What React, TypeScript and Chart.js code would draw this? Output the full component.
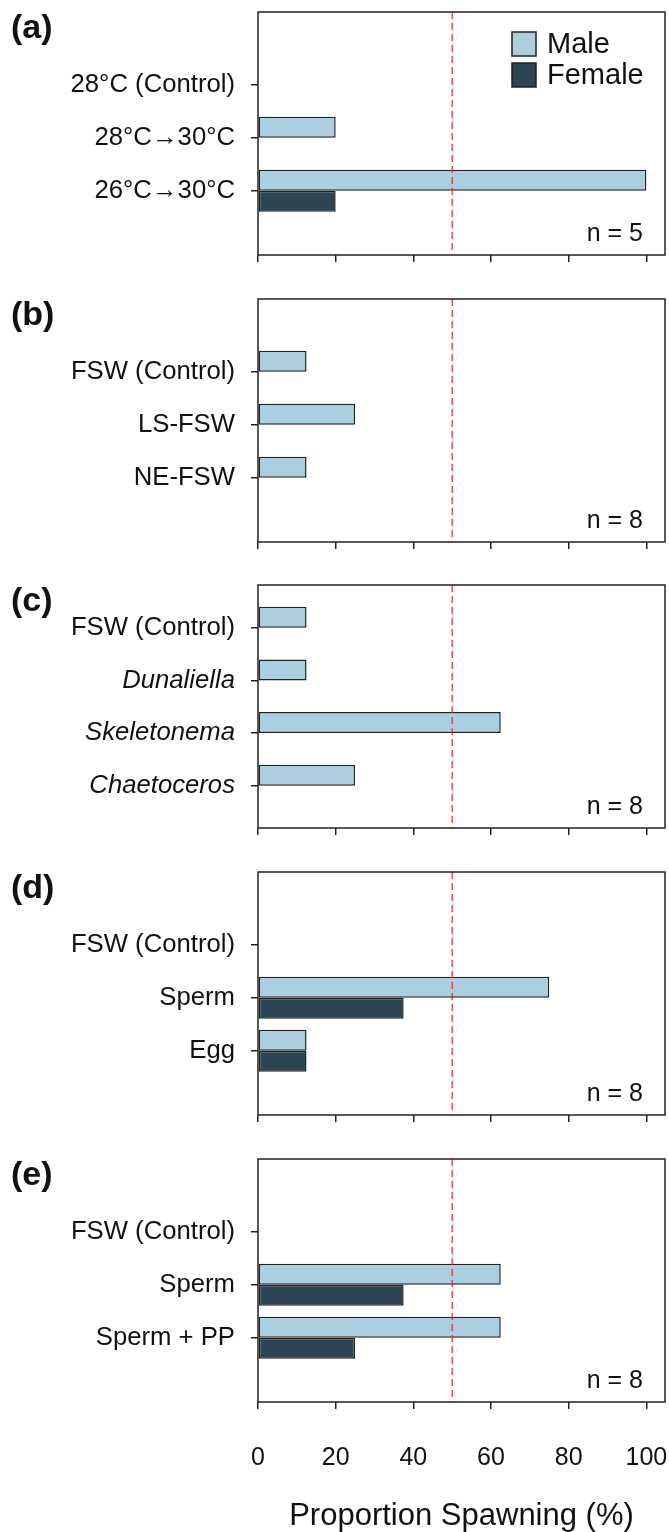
import React, { useEffect, useRef } from 'react';
import { Chart, registerables } from 'chart.js';

Chart.register(...registerables);

// ---------- data ----------
const panelLetters = ['(a)', '(b)', '(c)', '(d)', '(e)'];
const sampleSizes = [5, 8, 8, 8, 8];
const seriesLabels = ['Male', 'Female'];

const categoriesA = ['28°C (Control)', '28°C→30°C', '26°C→30°C'];
const maleA = [0, 20, 100];
const femaleA = [0, 0, 20];

const categoriesB = ['FSW (Control)', 'LS-FSW', 'NE-FSW'];
const maleB = [12.5, 25, 12.5];
const femaleB = [0, 0, 0];

const categoriesC = ['FSW (Control)', 'Dunaliella', 'Skeletonema', 'Chaetoceros'];
const italicC = [false, true, true, true];
const maleC = [12.5, 12.5, 62.5, 25];
const femaleC = [0, 0, 0, 0];

const categoriesD = ['FSW (Control)', 'Sperm', 'Egg'];
const maleD = [0, 75, 12.5];
const femaleD = [0, 37.5, 12.5];

const categoriesE = ['FSW (Control)', 'Sperm', 'Sperm + PP'];
const maleE = [0, 62.5, 62.5];
const femaleE = [0, 37.5, 25];

const xTickValues = [0, 20, 40, 60, 80, 100];
const xAxisTitle = 'Proportion Spawning (%)';
const thresholdValue = 50;

// ---------- style / layout ----------
const MALE_COLOR = '#abcfdf';
const FEMALE_COLOR = '#2d4454';
const AXIS_COLOR = '#222222';
const TEXT_COLOR = '#111111';
const RED = '#e3262b';
const FONT = '"Liberation Sans", Arial, Helvetica, sans-serif';

const CANVAS_W = 669;
const PLOT_LEFT = 258;
const PLOT_RIGHT = 665;
const PLOT_H = 243;
const TOP_PAD = 12;
const X_MAX = 104.8;

const panels = [
  { letter: panelLetters[0], n: sampleSizes[0], cats: categoriesA, male: maleA, female: femaleA, italic: [false, false, false], top: 12, yMin: -1.372, yMax: 3.213, legend: true, last: false },
  { letter: panelLetters[1], n: sampleSizes[1], cats: categoriesB, male: maleB, female: femaleB, italic: [false, false, false], top: 299, yMin: -1.372, yMax: 3.213, legend: false, last: false },
  { letter: panelLetters[2], n: sampleSizes[2], cats: categoriesC, male: maleC, female: femaleC, italic: italicC, top: 585, yMin: -0.81, yMax: 3.8, legend: false, last: false },
  { letter: panelLetters[3], n: sampleSizes[3], cats: categoriesD, male: maleD, female: femaleD, italic: [false, false, false], top: 872, yMin: -1.372, yMax: 3.213, legend: false, last: false },
  { letter: panelLetters[4], n: sampleSizes[4], cats: categoriesE, male: maleE, female: femaleE, italic: [false, false, false], top: 1159, yMin: -1.372, yMax: 3.213, legend: false, last: true },
];

const decorPlugin = {
  id: 'decor',
  afterDatasetsDraw(chart: any, _args: any, opts: any) {
    const { ctx, chartArea: a, scales } = chart;
    ctx.save();
    // threshold dashed line
    const xp = scales.x.getPixelForValue(opts.threshold);
    ctx.strokeStyle = RED;
    ctx.lineWidth = 1.2;
    ctx.setLineDash([7, 4]);
    ctx.beginPath();
    ctx.moveTo(xp, a.top);
    ctx.lineTo(xp, a.bottom);
    ctx.stroke();
    ctx.setLineDash([]);
    // frame
    ctx.strokeStyle = AXIS_COLOR;
    ctx.lineWidth = 1.5;
    ctx.strokeRect(a.left, a.top, a.right - a.left, a.bottom - a.top);
    // n label
    ctx.fillStyle = TEXT_COLOR;
    ctx.font = `25px ${FONT}`;
    ctx.textAlign = 'right';
    ctx.textBaseline = 'alphabetic';
    ctx.fillText(`n = ${opts.n}`, a.right - 22, a.bottom - 14.5);
    // panel letter
    ctx.font = `bold 34px ${FONT}`;
    ctx.textAlign = 'left';
    ctx.fillText(opts.letter, 11, 38);
    // legend
    if (opts.legend) {
      chart.data.datasets.forEach((ds: any, i: number) => {
        const y = a.top + 20 + i * 31;
        const x = a.right - 153;
        ctx.fillStyle = ds.backgroundColor;
        ctx.fillRect(x, y, 24, 24);
        ctx.strokeStyle = AXIS_COLOR;
        ctx.lineWidth = 1.5;
        ctx.strokeRect(x, y, 24, 24);
        ctx.fillStyle = TEXT_COLOR;
        ctx.font = `29px ${FONT}`;
        ctx.textAlign = 'left';
        ctx.fillText(ds.label, a.right - 118, y + 21.3);
      });
    }
    ctx.restore();
  },
};

function Panel({ p }: { p: any }) {
  const ref = useRef<HTMLCanvasElement>(null);
  const canvasTop = p.top - TOP_PAD;
  const canvasH = p.last ? 1532 - canvasTop : TOP_PAD + PLOT_H + 10;
  const xAxisH = canvasH - TOP_PAD - PLOT_H;

  useEffect(() => {
    if (!ref.current) return;
    const gridOpts = {
      drawOnChartArea: false,
      drawTicks: true,
      tickLength: 7,
      offset: false,
      color: AXIS_COLOR,
      lineWidth: 1.5,
    };
    const chart = new Chart(ref.current, {
      type: 'bar',
      data: {
        datasets: [
          {
            label: seriesLabels[0],
            data: p.male.map((v: number, i: number) => ({ x: v, y: i })),
            backgroundColor: MALE_COLOR,
            borderColor: AXIS_COLOR,
            borderWidth: 1.5,
            borderSkipped: false,
            barThickness: 21,
            inflateAmount: 0,
          },
          {
            label: seriesLabels[1],
            data: p.female.map((v: number, i: number) => ({ x: v, y: i })),
            backgroundColor: FEMALE_COLOR,
            borderColor: AXIS_COLOR,
            borderWidth: 1.5,
            borderSkipped: false,
            barThickness: 21,
            inflateAmount: 0,
          },
        ],
      },
      options: {
        indexAxis: 'y',
        animation: false,
        responsive: false,
        maintainAspectRatio: false,
        layout: { padding: { top: TOP_PAD, right: CANVAS_W - PLOT_RIGHT, left: 0, bottom: 0 } },
        plugins: {
          legend: { display: false },
          tooltip: { enabled: false },
          decor: { threshold: thresholdValue, n: p.n, letter: p.letter, legend: p.legend },
        } as any,
        scales: {
          x: {
            type: 'linear',
            position: 'bottom',
            min: 0,
            max: X_MAX,
            offset: false,
            bounds: 'data',
            afterBuildTicks: (s: any) => {
              s.ticks = xTickValues.map((v) => ({ value: v }));
            },
            afterFit: (s: any) => {
              s.height = xAxisH;
              s.paddingLeft = 0;
              s.paddingRight = 0;
            },
            grid: gridOpts,
            border: { display: false },
            ticks: {
              display: p.last,
              autoSkip: false,
              maxRotation: 0,
              padding: 34,
              color: TEXT_COLOR,
              font: { family: FONT, size: 25 },
            },
            title: {
              display: p.last,
              text: xAxisTitle,
              color: TEXT_COLOR,
              padding: 0,
              font: { family: FONT, size: 31, lineHeight: 1 },
            },
          },
          y: {
            type: 'linear',
            reverse: true,
            offset: false,
            min: p.yMin,
            max: p.yMax,
            bounds: 'data',
            afterBuildTicks: (s: any) => {
              s.ticks = p.cats.map((_: string, i: number) => ({ value: i }));
            },
            afterFit: (s: any) => {
              s.width = PLOT_LEFT;
              s.paddingTop = 0;
              s.paddingBottom = 0;
            },
            grid: gridOpts,
            border: { display: false },
            ticks: {
              autoSkip: false,
              padding: 16,
              color: TEXT_COLOR,
              font: (ctx: any) => ({
                family: FONT,
                size: 25.7,
                style: ctx.tick && p.italic[ctx.tick.value] ? 'italic' : 'normal',
              }),
              callback: (v: any) => p.cats[v],
            },
          },
        },
      } as any,
      plugins: [decorPlugin],
    });
    return () => chart.destroy();
  }, []);

  return (
    <canvas
      ref={ref}
      width={CANVAS_W}
      height={canvasH}
      style={{ position: 'absolute', left: 0, top: canvasTop, width: CANVAS_W, height: canvasH }}
    />
  );
}

export default function App() {
  return (
    <div
      style={{
        position: 'absolute',
        left: 0,
        top: 0,
        width: CANVAS_W,
        height: 1532,
        overflow: 'hidden',
        background: '#ffffff',
      }}
    >
      {panels.map((p, i) => (
        <Panel key={i} p={p} />
      ))}
    </div>
  );
}
